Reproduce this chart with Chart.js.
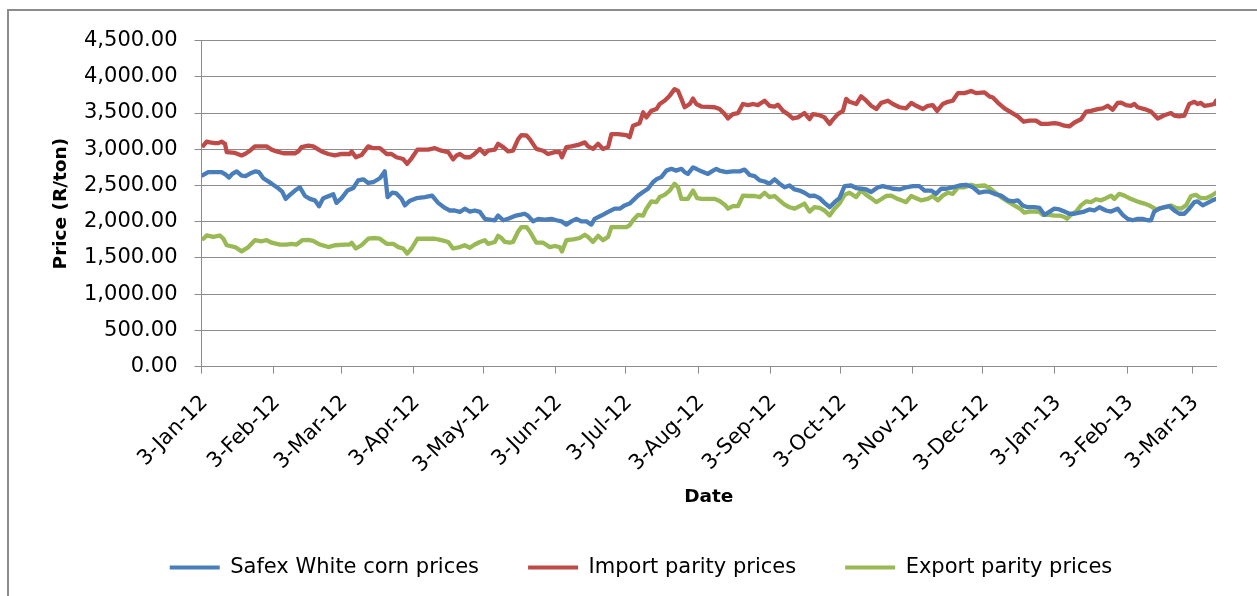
<!DOCTYPE html>
<html>
<head>
<meta charset="utf-8">
<script src="https://cdn.jsdelivr.net/npm/chart.js@4.4.0/dist/chart.umd.min.js"></script>
<style>
html,body{margin:0;padding:0;background:#fff;overflow:hidden;width:1257px;height:596px;}
#frame{position:absolute;left:7px;top:9px;width:1300px;height:620px;border-left:2px solid #8c8c8c;border-top:2px solid #8c8c8c;}
#c{position:absolute;left:9px;top:11px;}
</style>
</head>
<body>
<div id="frame"></div>
<canvas id="c" width="1264" height="585"></canvas>
<script>
// x values are days since 3-Jan-2012
const monthTickLabels = ['3-Jan-12','3-Feb-12','3-Mar-12','3-Apr-12','3-May-12','3-Jun-12','3-Jul-12','3-Aug-12','3-Sep-12','3-Oct-12','3-Nov-12','3-Dec-12','3-Jan-13','3-Feb-13','3-Mar-13'];
const yTickValues = [0,500,1000,1500,2000,2500,3000,3500,4000,4500];
const lastDay = 435.1;

const safexDays = [0.4,2.9,8.6,10.4,11.8,13.2,15.1,17.2,18.9,20.8,23.2,24.6,26.5,30.1,32.6,34.6,36.1,37.9,40.1,42.2,44.4,46.5,48.6,50.4,52.2,55.1,56.5,57.9,60.1,62.6,65.1,67.2,69.4,71.5,73.6,76.5,77.9,78.6,79.8,81.8,83.6,85.8,87.2,89.4,92.2,95.8,98.9,101.5,104.4,106.5,
 108.6,110.8,112.9,115.1,117.2,119.4,121.5,123.6,125.8,127.2,129.4,131.5,134.4,136.5,138.6,140.1,142.2,144.4,147.2,150.1,152.2,154.4,156.5,158.6,160.8,162.9,165.1,167.2,168.6,171.5,174.4,177.2,179.4,181.5,183.6,185.1,187.2,189.4,191.5,193.6,195.1,197.2,199.4,201.5,203.6,205.8,207.2,208.6,210.8,212.2,214.4,217.2,219.4,
 220.8,222.2,225.1,227.9,230.8,232.9,235.1,237.2,239.4,241.5,243.6,245.8,247.9,250.1,252.2,254.4,256.5,258.6,260.8,262.9,265.1,267.2,269.4,271.5,273.6,275.8,278.6,280.8,282.9,285.1,287.2,290.1,292.2,294.4,296.5,299.4,302.2,305.1,307.9,310.1,312.9,315.1,317.2,319.4,322.2,325.1,327.9,330.8,
 333.6,335.8,337.9,340.1,342.9,345.8,347.9,350.1,352.2,354.4,357.2,359.4,361.5,363.6,365.8,367.9,370.1,372.2,374.4,376.5,378.6,380.8,382.9,385.1,387.9,390.1,392.9,395.1,397.2,399.4,401.5,403.6,405.8,407.2,408.6,410.8,412.9,415.1,417.2,419.4,421.5,423.6,425.8,427.2,429.4,431.5,433.6,435.1];
const safexPrices = [2640,2685,2685,2650,2610,2660,2695,2635,2630,2665,2695,2685,2600,2525,2470,2415,2315,2370,2430,2475,2355,2315,2295,2215,2325,2360,2380,2260,2325,2430,2465,2570,2585,2535,2545,2600,2660,2695,2340,2400,2390,2315,2225,2290,2325,2340,2360,2260,2190,2155,
 2155,2135,2180,2140,2155,2135,2040,2030,2020,2085,2020,2040,2080,2095,2110,2080,2005,2040,2030,2040,2020,2005,1960,2005,2040,2005,2005,1960,2040,2085,2135,2180,2180,2225,2250,2295,2360,2410,2455,2545,2585,2615,2705,2730,2705,2730,2685,2660,2750,2730,2695,2660,2705,
 2730,2705,2685,2695,2695,2720,2645,2630,2570,2555,2525,2585,2525,2475,2500,2445,2430,2400,2355,2360,2325,2260,2200,2270,2325,2490,2500,2465,2455,2445,2410,2475,2490,2475,2455,2445,2475,2490,2490,2430,2430,2385,2455,2455,2475,2500,2510,2475,
 2400,2415,2415,2385,2360,2295,2280,2295,2225,2200,2200,2190,2095,2135,2180,2170,2140,2110,2110,2125,2140,2170,2155,2200,2155,2140,2180,2095,2040,2020,2040,2040,2020,2020,2140,2180,2200,2215,2155,2110,2110,2180,2270,2280,2225,2260,2295,2315];

const importDays = [0.8,2.2,3.6,5.8,7.2,8.6,10.1,10.8,14.4,17.2,18.6,20.8,22.9,27.9,30.1,32.2,35.1,40.1,41.5,42.9,45.8,47.9,51.5,54.4,57.2,60.1,63.6,64.4,66.2,68.6,71.5,73.6,76.5,79.4,81.5,83.6,86.5,88.2,90.1,92.6,97.2,100.1,102.9,105.8,107.9,109.4,
 110.8,112.9,115.1,116.5,119.4,121.5,122.9,125.8,127.2,129.4,131.5,133.6,135.8,137.2,139.4,140.8,143.6,146.5,148.6,151.5,153.6,154.6,156.5,158.6,161.5,164.4,165.8,167.9,170.1,172.2,174.4,175.8,178.6,182.2,183.6,185.1,187.9,189.4,190.8,192.9,195.1,196.5,198.6,200.8,202.9,204.4,205.8,207.2,209.4,210.8,212.2,214.4,217.2,220.1,
 222.2,224.4,225.8,227.9,230.1,232.2,234.4,236.5,238.6,241.5,243.6,245.8,247.2,249.4,251.5,253.6,255.8,258.6,260.8,262.2,265.1,267.2,269.4,270.8,272.9,275.1,276.5,277.9,280.8,282.9,285.1,287.2,289.4,291.5,294.4,296.5,299.4,302.2,304.4,306.5,309.4,311.5,313.6,315.5,317.9,320.1,322.2,324.4,327.2,330.1,332.2,
 335.8,337.9,339.4,341.5,344.4,347.2,350.1,352.6,355.1,357.9,360.1,362.9,365.8,367.9,370.1,372.2,374.4,377.2,379.4,381.5,384.4,386.5,388.6,390.8,392.9,394.4,396.5,398.6,400.1,401.5,404.4,407.2,410.1,412.9,415.8,417.2,419.4,421.5,423.6,425.8,427.2,428.6,430.1,432.2,434.4,435.1];
const importPrices = [3050,3105,3095,3085,3085,3105,3075,2960,2950,2915,2935,2980,3040,3040,2995,2970,2945,2945,2970,3030,3050,3040,2970,2935,2915,2935,2935,2970,2890,2920,3040,3015,3015,2935,2935,2890,2865,2800,2875,2995,2995,3015,2980,2960,2860,2915,
 2935,2890,2890,2920,3005,2935,2980,2995,3075,3030,2970,2980,3140,3195,3190,3140,3005,2980,2935,2960,2960,2890,3030,3040,3060,3095,3040,3005,3075,3005,3030,3210,3210,3195,3165,3325,3360,3510,3440,3530,3555,3625,3670,3740,3830,3805,3695,3580,3625,3700,3625,3590,3585,3580,
 3555,3485,3425,3485,3500,3625,3610,3625,3610,3670,3600,3590,3615,3530,3485,3425,3440,3500,3415,3485,3470,3440,3350,3410,3485,3530,3695,3655,3625,3730,3670,3600,3555,3640,3670,3625,3580,3565,3640,3600,3555,3600,3610,3530,3625,3655,3670,3775,3775,3805,3775,
 3785,3730,3715,3645,3565,3510,3455,3380,3395,3395,3350,3350,3360,3350,3325,3315,3370,3415,3520,3530,3555,3565,3600,3545,3640,3645,3610,3600,3625,3580,3555,3520,3425,3470,3500,3465,3455,3465,3625,3655,3625,3640,3600,3610,3625,3670];

const exportDays = [0.8,2.2,5.1,7.9,9.4,10.8,14.4,17.2,20.1,22.9,25.8,27.9,30.1,33.6,36.5,38.6,40.8,43.2,45.8,47.9,50.8,54.4,57.2,61.5,63.6,64.4,66.2,68.6,71.5,74.4,76.5,79.4,82.2,84.4,86.5,88.2,90.1,92.6,97.2,100.1,102.9,105.8,107.9,
 110.8,112.9,115.1,117.2,119.4,121.5,122.9,125.8,127.2,128.6,130.1,132.2,133.6,135.8,137.2,139.4,140.8,143.6,146.5,149.4,151.5,153.6,154.6,156.5,159.4,162.2,164.4,165.8,167.9,170.1,172.2,174.4,175.8,178.6,182.2,183.6,185.1,187.2,189.4,190.8,192.9,195.1,196.5,198.6,200.8,202.9,204.4,205.8,208.6,210.8,212.6,214.4,217.2,220.1,
 222.2,224.4,225.8,227.9,230.1,232.2,234.4,237.2,239.4,241.5,243.6,245.8,247.9,250.1,252.2,254.4,256.5,258.6,260.8,262.9,265.1,267.2,269.4,271.5,273.6,275.8,277.9,280.8,282.9,285.1,287.2,289.4,291.5,293.6,295.8,297.9,300.1,302.2,304.4,306.5,308.6,311.5,313.6,315.8,317.9,320.1,322.2,324.4,327.2,330.1,332.2,
 335.8,337.9,340.1,342.9,345.8,348.6,351.5,352.9,355.1,357.2,359.4,360.8,363.6,365.8,367.9,370.1,371.2,372.9,375.1,377.2,379.4,381.5,383.6,385.8,387.9,390.1,391.5,393.6,395.8,397.9,400.1,402.2,404.4,406.5,409.4,411.5,413.6,415.8,417.9,420.1,422.2,424.4,426.5,428.6,430.8,432.9,435.1];
const exportPrices = [1765,1810,1790,1810,1765,1675,1650,1590,1650,1745,1730,1745,1710,1685,1685,1695,1685,1745,1750,1735,1685,1650,1675,1685,1685,1710,1630,1675,1765,1775,1765,1695,1695,1650,1630,1560,1630,1765,1765,1765,1745,1720,1630,
 1650,1675,1640,1685,1720,1745,1695,1720,1805,1775,1720,1710,1720,1865,1925,1925,1865,1710,1710,1650,1665,1650,1590,1745,1755,1775,1820,1790,1720,1805,1745,1790,1925,1925,1925,1950,2020,2095,2085,2180,2280,2270,2340,2370,2430,2525,2475,2315,2315,2430,2325,2315,2315,2315,
 2285,2235,2180,2215,2215,2360,2355,2355,2340,2400,2340,2355,2295,2235,2200,2180,2215,2250,2140,2200,2190,2155,2085,2180,2250,2370,2400,2340,2430,2370,2325,2270,2310,2355,2360,2325,2295,2270,2355,2325,2295,2315,2355,2295,2360,2400,2385,2475,2475,2510,2490,
 2500,2465,2410,2340,2280,2225,2170,2125,2140,2140,2135,2095,2095,2085,2085,2065,2040,2095,2140,2225,2280,2270,2310,2295,2325,2360,2315,2385,2360,2325,2295,2270,2250,2225,2170,2190,2200,2225,2190,2180,2225,2355,2370,2325,2325,2355,2400];

const DAY = 86400000;
const start = Date.UTC(2012, 0, 3);
const monthOffsets = monthTickLabels.map((_, i) => (Date.UTC(2012, i, 3) - start) / DAY);
const toXY = (days, vals) => days.map((d, i) => ({x: d, y: vals[i]}));
const fmt = v => v.toLocaleString('en-US', {minimumFractionDigits: 2, maximumFractionDigits: 2});

const FAM = "'DejaVu Sans', sans-serif";
const GRID = '#8c8c8c';

function series(label, days, vals, color) {
  return {label, data: toXY(days, vals), borderColor: color, backgroundColor: color,
    borderWidth: 4.3, pointRadius: 0, tension: 0, borderJoinStyle: 'round', borderCapStyle: 'round', fill: false};
}

new Chart(document.getElementById('c'), {
  type: 'line',
  data: {datasets: [
    series('Safex White corn prices', safexDays, safexPrices, '#4A7EBB'),
    series('Import parity prices', importDays, importPrices, '#BE4B48'),
    series('Export parity prices', exportDays, exportPrices, '#98B954')
  ]},
  options: {
    responsive: false, devicePixelRatio: 1, animation: false,
    layout: {padding: {top: 28.3, right: 0, bottom: 8, left: 0}},
    plugins: {
      tooltip: {enabled: false},
      legend: {
        position: 'bottom',
        labels: {
          font: {family: FAM, size: 21}, color: '#000', boxWidth: 50, boxHeight: 4, padding: 49,
          generateLabels: ch => Chart.defaults.plugins.legend.labels.generateLabels(ch).map(l => Object.assign(l, {lineWidth: 0, fillStyle: l.strokeStyle}))
        }
      }
    },
    scales: {
      x: {
        type: 'linear', min: 0, max: lastDay,
        afterBuildTicks: s => { s.ticks = monthOffsets.map(v => ({value: v})); },
        afterFit: s => { s.height = 141.4; },
        ticks: {autoSkip: false, minRotation: 45, maxRotation: 45, padding: 17, labelOffset: 3,
          font: {family: FAM, size: 21}, color: '#000', callback: (v, i) => monthTickLabels[i]},
        grid: {drawOnChartArea: false, drawTicks: true, tickLength: 7, color: GRID},
        border: {display: true, color: GRID, width: 1},
        title: {display: true, text: 'Date', font: {family: FAM, size: 18.5, weight: 'bold', lineHeight: 1.2}, color: '#000', padding: {top: 0, bottom: 0}}
      },
      y: {
        min: 0, max: 4500,
        afterBuildTicks: s => { s.ticks = yTickValues.map(v => ({value: v})); },
        afterFit: s => { s.width = 192.5; },
        ticks: {padding: 17, font: {family: FAM, size: 21}, color: '#000', callback: v => fmt(v)},
        grid: {color: GRID, tickLength: 7, drawTicks: true},
        border: {display: true, color: GRID, width: 1},
        title: {display: true, text: 'Price (R/ton)', font: {family: FAM, size: 18.5, weight: 'bold', lineHeight: 1.2}, color: '#000', padding: {top: 41, bottom: 0}}
      },
      // empty right-hand margin of the plot (reserves space only, draws nothing)
      yRight: {
        position: 'right', min: 0, max: 1,
        afterFit: s => { s.width = 57; },
        ticks: {display: false}, grid: {display: false}, border: {display: false}
      }
    }
  }
});
</script>
</body>
</html>
